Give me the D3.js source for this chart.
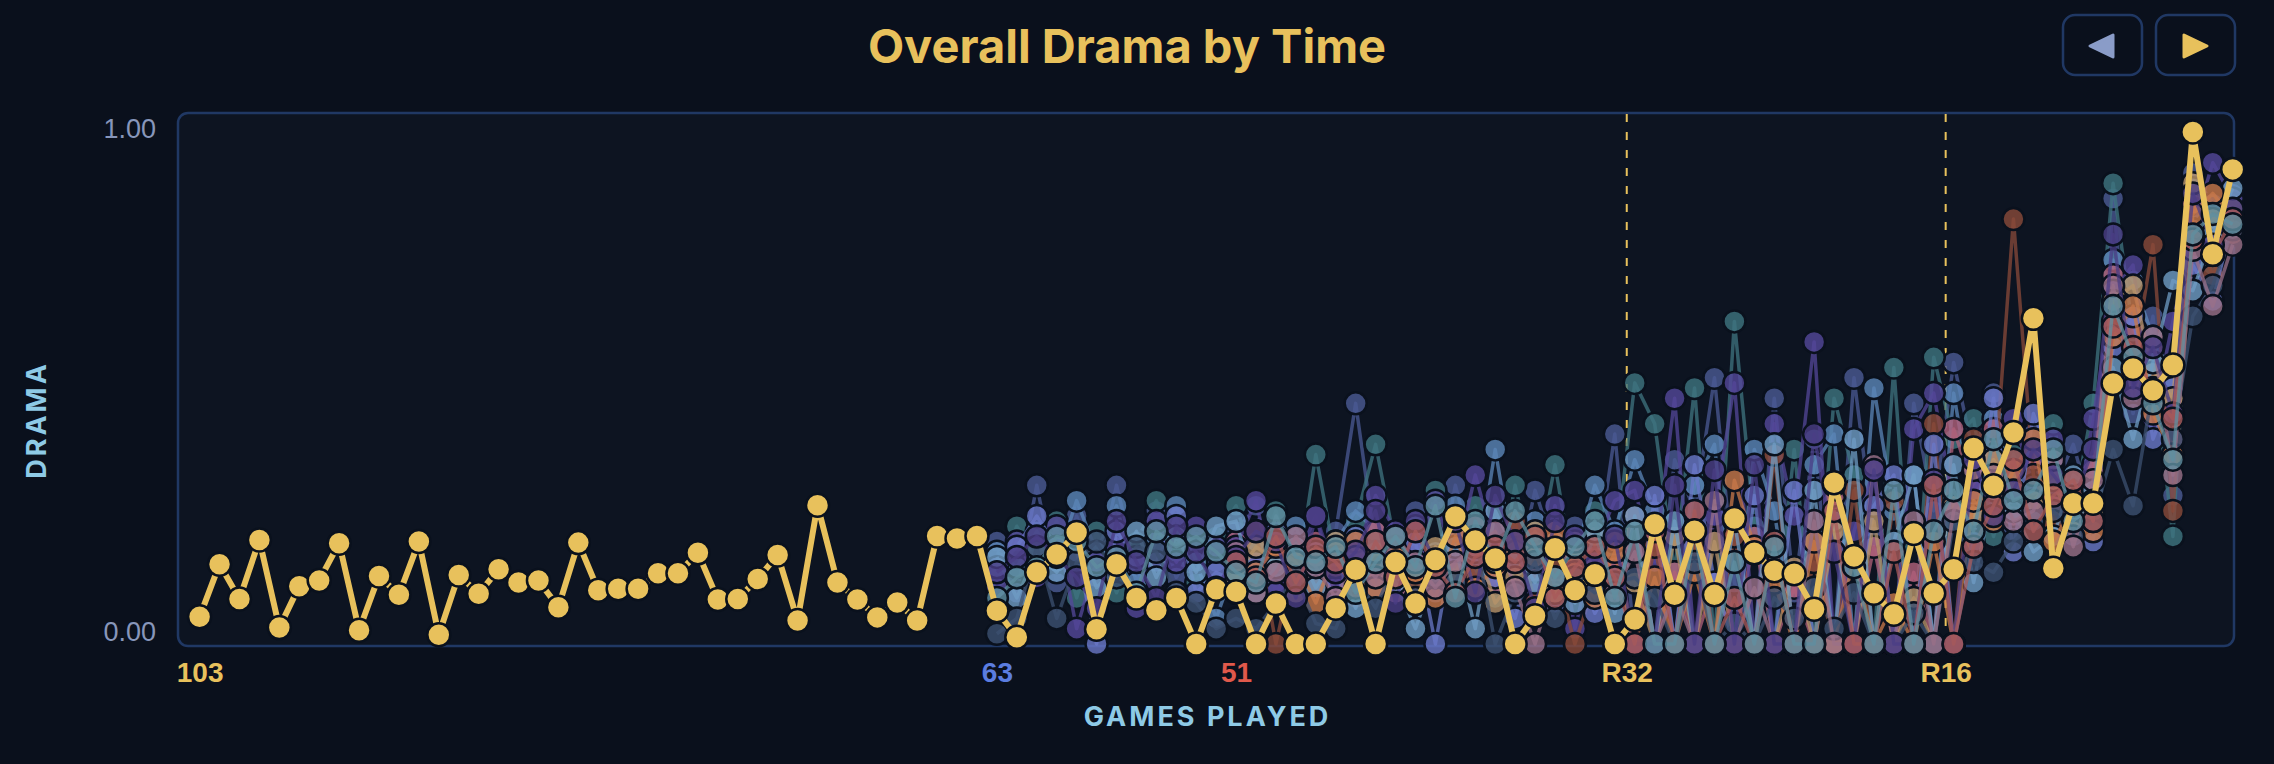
<!DOCTYPE html>
<html>
<head>
<meta charset="UTF-8">
<title>Overall Drama by Time</title>
<style>
    body { margin: 0; background: #0a101c; }
    svg { display: block; font-family: Inter, "Noto Sans", sans-serif; }
    .frame { fill: #0d1421; stroke: #203864; stroke-width: 2.5px; }
    .run-line { fill: none; stroke-width: 3.5px; stroke-opacity: 0.75; stroke-linejoin: round; }
    .run-dot { stroke: #0a111d; stroke-width: 2.5px; fill-opacity: 0.8; }
    .overall-line { fill: none; stroke: #e8c15c; stroke-width: 6px; stroke-linejoin: round; }
    .overall-dot { fill: #e8c15c; stroke: #0a111d; stroke-width: 2.5px; }
    .round-line { stroke: #e8c15c; stroke-width: 2px; stroke-dasharray: 8 10; }
    .y-axis text { fill: #8796ba; font-size: 27px; }
    .x-axis text { font-size: 28px; font-weight: 700; }
    .axis-title { fill: #8ecae6; font-size: 27px; font-weight: 700; letter-spacing: 3px; }
    .title { fill: #e8c15c; font-size: 47px; font-weight: 700; }
    .btn { fill: #0a101c; stroke: #203864; stroke-width: 2.5px; }
</style>
</head>
<body>
<script src="https://d3js.org/d3.v7.min.js"></script>
<script>

// overall drama, one value per game (first game = 103 remaining)
var overall = [0.053,0.156,0.088,0.203,0.032,0.113,0.124,0.197,0.027,0.133,
    0.096,0.200,0.018,0.135,0.098,0.146,0.120,0.124,0.072,0.198,
    0.105,0.108,0.108,0.138,0.138,0.178,0.087,0.088,0.127,0.174,
    0.046,0.271,0.120,0.087,0.052,0.081,0.046,0.211,0.206,0.211,
    0.065,0.013,0.140,0.175,0.218,0.029,0.156,0.090,0.066,0.090,
    0.000,0.107,0.102,0.000,0.079,0.000,0.000,0.070,0.145,0.000,
    0.160,0.079,0.164,0.249,0.202,0.167,0.000,0.055,0.187,0.105,
    0.136,0.000,0.048,0.234,0.096,0.221,0.096,0.245,0.178,0.143,
    0.137,0.068,0.315,0.171,0.099,0.058,0.216,0.099,0.146,0.383,
    0.309,0.413,0.636,0.148,0.275,0.275,0.509,0.538,0.495,0.545,
    1.000,0.761,0.927];

// runs that begin at game index 40 ("63")
var blueStart = 40;
var blue1 = [0.20,0.10,0.31,0.12,0.25,0.13,0.31,0.15,0.26,0.13,0.20,0.16,
    0.22,0.27,0.12,0.20,0.15,0.22,0.47,0.19,0.14,0.26,0.10,0.31,0.16,0.23,0.12,0.30,0.18,0.23,0.14,0.41,
    0.00,0.00,0.36,0.26,0.52,0.12,0.00,0.48,0.10,0.40,0.00,0.52,0.21,0.00,0.47,0.26,0.55,
    0.37,0.49,0.22,0.41,0.30,0.39,0.25,0.87,0.45,0.64,0.29,0.92,0.86,0.88];
var blue2 = [0.13,0.23,0.16,0.24,0.09,0.22,0.10,0.20,0.28,0.18,0.12,0.21,
    0.27,0.15,0.26,0.11,0.37,0.16,0.24,0.39,0.19,0.12,0.30,0.20,0.27,0.09,0.31,0.14,0.35,0.12,0.26,0.17,
    0.51,0.43,0.14,0.50,0.00,0.63,0.23,0.00,0.38,0.00,0.48,0.33,0.00,0.54,0.00,0.56,0.40,
    0.44,0.21,0.37,0.24,0.43,0.26,0.47,0.90,0.61,0.55,0.21,0.85,0.74,0.86];
var blue3 = [0.18,0.15,0.22,0.16,0.28,0.18,0.27,0.12,0.20,0.27,0.16,0.05,
    0.16,0.20,0.18,0.23,0.12,0.20,0.26,0.22,0.10,0.23,0.18,0.27,0.13,0.38,0.15,0.24,0.11,0.17,0.31,0.22,
    0.36,0.26,0.00,0.31,0.39,0.00,0.38,0.26,0.00,0.35,0.41,0.00,0.50,0.26,0.33,0.00,0.49,
    0.26,0.44,0.32,0.36,0.26,0.30,0.35,0.75,0.71,0.60,0.52,0.89,0.80,0.84];
var blue4 = [0.11,0.20,0.13,0.23,0.03,0.16,0.19,0.07,0.24,0.16,0.23,0.19,
    0.19,0.28,0.10,0.16,0.25,0.11,0.17,0.29,0.22,0.18,0.28,0.16,0.33,0.19,0.23,0.10,0.27,0.03,0.19,0.28,
    0.30,0.16,0.48,0.00,0.25,0.51,0.00,0.43,0.25,0.59,0.00,0.22,0.34,0.00,0.42,0.49,0.27,
    0.30,0.37,0.44,0.31,0.40,0.21,0.44,0.69,0.74,0.44,0.63,0.81,0.94,0.87];
var blue5 = [0.15,0.19,0.25,0.19,0.18,0.00,0.22,0.17,0.16,0.25,0.10,0.14,
    0.12,0.16,0.22,0.14,0.18,0.08,0.21,0.11,0.17,0.20,0.00,0.22,0.18,0.13,0.05,0.20,0.08,0.16,0.06,0.13,
    0.00,0.29,0.00,0.35,0.12,0.00,0.29,0.00,0.30,0.00,0.24,0.00,0.27,0.33,0.00,0.39,0.00,
    0.20,0.48,0.18,0.45,0.35,0.26,0.20,0.58,0.64,0.40,0.50,0.74,0.67,0.83];
var blue6 = [0.17,0.09,0.18,0.14,0.21,0.11,0.15,0.22,0.13,0.21,0.14,0.23,
    0.24,0.10,0.15,0.19,0.11,0.17,0.07,0.20,0.12,0.03,0.14,0.19,0.03,0.26,0.18,0.12,0.20,0.08,0.22,0.06,
    0.25,0.00,0.24,0.00,0.00,0.24,0.00,0.39,0.00,0.30,0.00,0.40,0.00,0.20,0.33,0.00,0.35,
    0.12,0.30,0.26,0.18,0.21,0.33,0.30,0.54,0.40,0.55,0.71,0.69,0.80,0.89];
var blue7 = [0.02,0.05,0.19,0.05,0.16,0.20,0.13,0.19,0.18,0.10,0.08,0.03,
    0.05,0.03,0.08,0.13,0.04,0.03,0.13,0.07,0.16,0.09,0.13,0.12,0.21,0.00,0.10,0.16,0.05,0.13,0.10,0.12,
    0.13,0.09,0.00,0.16,0.00,0.04,0.00,0.09,0.05,0.11,0.03,0.10,0.00,0.00,0.06,0.00,0.24,
    0.16,0.14,0.20,0.24,0.26,0.21,0.24,0.38,0.27,0.50,0.40,0.64,0.70,0.81];
var blue8 = [0.14,0.17,0.21,0.17,0.13,0.07,0.24,0.16,0.09,0.23,0.18,0.11,
    0.17,0.22,0.20,0.09,0.25,0.14,0.18,0.26,0.08,0.24,0.16,0.24,0.10,0.29,0.20,0.07,0.24,0.21,0.16,0.21,
    0.00,0.00,0.31,0.00,0.34,0.00,0.35,0.00,0.00,0.41,0.18,0.00,0.34,0.00,0.00,0.32,0.00,
    0.36,0.25,0.30,0.38,0.33,0.28,0.38,0.80,0.50,0.58,0.45,0.88,0.78,0.85];
var blue9 = [0.09,0.13,0.15,0.21,0.20,0.15,0.17,0.10,0.22,0.19,0.21,0.18,
    0.14,0.12,0.25,0.17,0.16,0.19,0.10,0.16,0.21,0.15,0.27,0.09,0.24,0.16,0.26,0.19,0.13,0.19,0.24,0.09,
    0.22,0.00,0.00,0.22,0.00,0.16,0.00,0.19,0.00,0.00,0.31,0.15,0.00,0.30,0.00,0.22,0.30,
    0.22,0.40,0.28,0.30,0.38,0.24,0.28,0.66,0.56,0.47,0.36,0.80,0.84,0.82];

// runs that begin at game index 52 ("51")
var redStart = 52;
var red1 = [0.20,0.16,0.18,0.14,0.20,0.12,0.16,0.22,0.10,0.20,0.13,0.18,0.23,0.12,0.18,0.14,0.19,0.10,0.17,0.15,
    0.25,0.00,0.14,0.00,0.12,0.00,0.21,0.00,0.11,0.00,0.29,0.00,0.19,0.00,0.14,0.00,0.42,
    0.30,0.42,0.25,0.36,0.27,0.25,0.34,0.72,0.62,0.51,0.40,0.86,0.82,0.81];
var red2 = [0.15,0.22,0.00,0.18,0.11,0.15,0.09,0.14,0.19,0.12,0.17,0.23,0.13,0.17,0.24,0.08,0.15,0.00,0.12,0.20,
    0.00,0.19,0.00,0.19,0.00,0.21,0.00,0.37,0.00,0.16,0.00,0.30,0.00,0.28,0.00,0.43,0.00,
    0.40,0.30,0.83,0.33,0.24,0.30,0.29,0.63,0.54,0.78,0.26,0.81,0.72,0.80];
var red3 = [0.13,0.19,0.16,0.10,0.17,0.20,0.12,0.18,0.15,0.08,0.19,0.14,0.20,0.08,0.13,0.22,0.10,0.18,0.21,0.11,
    0.12,0.00,0.21,0.00,0.20,0.00,0.00,0.00,0.15,0.00,0.22,0.00,0.24,0.00,0.09,0.00,0.27,
    0.25,0.36,0.30,0.28,0.32,0.22,0.26,0.67,0.70,0.53,0.48,0.90,0.83,0.85];
var red4 = [0.10,0.14,0.19,0.16,0.08,0.18,0.20,0.11,0.17,0.14,0.09,0.21,0.11,0.15,0.20,0.17,0.22,0.14,0.09,0.18,
    0.00,0.13,0.00,0.14,0.00,0.32,0.19,0.12,0.00,0.20,0.00,0.17,0.00,0.08,0.00,0.20,0.00,
    0.28,0.24,0.34,0.40,0.20,0.27,0.22,0.60,0.66,0.45,0.37,0.84,0.88,0.83];
var red5 = [0.18,0.10,0.14,0.21,0.15,0.09,0.17,0.13,0.21,0.16,0.11,0.16,0.19,0.22,0.11,0.00,0.13,0.20,0.15,0.10,
    0.18,0.00,0.10,0.00,0.28,0.00,0.11,0.00,0.00,0.24,0.00,0.00,0.35,0.00,0.24,0.00,0.26,
    0.34,0.33,0.24,0.26,0.36,0.19,0.32,0.70,0.48,0.60,0.33,0.77,0.66,0.78];
var red6 = [0.16,0.13,0.21,0.12,0.19,0.16,0.11,0.20,0.13,0.22,0.15,0.10,0.17,0.19,0.16,0.21,0.09,0.15,0.19,0.13,
    0.00,0.22,0.00,0.26,0.00,0.09,0.00,0.20,0.00,0.00,0.26,0.00,0.00,0.18,0.00,0.31,0.00,
    0.19,0.27,0.36,0.22,0.29,0.32,0.24,0.62,0.58,0.49,0.44,0.79,0.76,0.83];

// x axis: game index of each label
var tickAt = [0, 40, 52, 71.6, 87.6];
var tickText = ["103", "63", "51", "R32", "R16"];
var roundLines = [71.6, 87.6];
var yTicks = [0, 1];

// colours
var blueColors = ["#4b5a94", "#3f7480", "#5b86b8", "#54479a", "#6a78c8", "#6f9cc4", "#3c5070", "#4a3d85", "#5f8fa0"];
var redColors = ["#b0607a", "#8a4a3a", "#b8946a", "#c8784a", "#9a7088", "#a85a5a"];
var tickColors = { "103": "#e8c15c", "63": "#5b7de0", "51": "#e0594b", "R32": "#e8c15c", "R16": "#e8c15c" };

var W = 2274, H = 764;
var frame = { left: 178, top: 113, right: 2234, bottom: 646 };

var svg = d3.select("body").append("svg")
    .attr("width", W)
    .attr("height", H);

var x = d3.scaleLinear().domain([0, overall.length - 1]).range([199.6, 2232.7]);
var y = d3.scaleLinear().domain([0, 1]).range([644, 132]);

// title
svg.append("text")
    .attr("class", "title")
    .attr("x", 1127).attr("y", 63)
    .attr("text-anchor", "middle")
    .text("Overall Drama by Time");

// prev / next buttons
svg.append("rect").attr("class", "btn")
    .attr("x", 2063).attr("y", 15).attr("width", 79).attr("height", 60).attr("rx", 12);
svg.append("rect").attr("class", "btn")
    .attr("x", 2156).attr("y", 15).attr("width", 79).attr("height", 60).attr("rx", 12);
svg.append("path")
    .attr("d", "M2090,46 L2113,35 L2113,57 Z")
    .attr("fill", "#8a9cc8").attr("stroke", "#8a9cc8")
    .attr("stroke-width", 3).attr("stroke-linejoin", "round");
svg.append("path")
    .attr("d", "M2207,46 L2184,35 L2184,57 Z")
    .attr("fill", "#e8c15c").attr("stroke", "#e8c15c")
    .attr("stroke-width", 3).attr("stroke-linejoin", "round");

// plot frame
svg.append("rect")
    .attr("class", "frame")
    .attr("x", frame.left).attr("y", frame.top)
    .attr("width", frame.right - frame.left)
    .attr("height", frame.bottom - frame.top)
    .attr("rx", 10);

// round markers
svg.selectAll(".round-line")
    .data(roundLines)
    .enter().append("line")
    .attr("class", "round-line")
    .attr("x1", function(d) { return x(d); })
    .attr("x2", function(d) { return x(d); })
    .attr("y1", frame.top + 1)
    .attr("y2", frame.bottom - 1);

// y axis
var yAxis = svg.append("g")
    .attr("class", "y-axis")
    .attr("transform", "translate(" + frame.left + ",0)")
    .call(d3.axisLeft(y).tickValues(yTicks).tickFormat(d3.format(".2f")).tickSize(0).tickPadding(22));
yAxis.select(".domain").remove();
yAxis.selectAll("text")
    .attr("transform", function(d) { return "translate(0," + (d === 0 ? -12 : -3) + ")"; });

// x axis
var xAxis = svg.append("g")
    .attr("class", "x-axis")
    .attr("transform", "translate(0," + frame.bottom + ")")
    .call(d3.axisBottom(x).tickValues(tickAt)
        .tickFormat(function(d, i) { return tickText[i]; })
        .tickSize(0).tickPadding(16));
xAxis.select(".domain").remove();
xAxis.selectAll("text")
    .attr("fill", function(d, i) { return tickColors[tickText[i]]; });

// axis titles
svg.append("text")
    .attr("class", "axis-title")
    .attr("x", (frame.left + frame.right) / 2 + 1.5).attr("y", 726)
    .attr("text-anchor", "middle")
    .text("GAMES PLAYED");

svg.append("text")
    .attr("class", "axis-title")
    .attr("transform", "translate(45.5,420) rotate(-90)")
    .attr("text-anchor", "middle")
    .text("DRAMA");

// build runs, mixing the two groups so neither sits fully on top
var blueRuns = [blue1, blue2, blue3, blue4, blue5, blue6, blue7, blue8, blue9];
var redRuns = [red1, red2, red3, red4, red5, red6];
var drawOrder = ["b0", "b1", "b2", "r0", "b3", "r1", "b4", "r2", "b5", "r3", "b6", "r4", "b7", "r5", "b8"];
var runs = drawOrder.map(function(key) {
    var k = +key.slice(1);
    if (key[0] === "b") return { start: blueStart, values: blueRuns[k], color: blueColors[k] };
    return { start: redStart, values: redRuns[k], color: redColors[k] };
});

function toPoints(start, values) {
    return values.map(function(v, j) { return { i: start + j, v: v }; });
}

var line = d3.line()
    .x(function(d) { return x(d.i); })
    .y(function(d) { return y(d.v); });

var runG = svg.append("g");
runs.forEach(function(r) {
    var pts = toPoints(r.start, r.values);
    var g = runG.append("g");
    g.append("path")
        .attr("class", "run-line")
        .attr("stroke", r.color)
        .attr("d", line(pts));
    g.selectAll("circle")
        .data(pts)
        .enter().append("circle")
        .attr("class", "run-dot")
        .attr("fill", r.color)
        .attr("cx", function(d) { return x(d.i); })
        .attr("cy", function(d) { return y(d.v); })
        .attr("r", 11);
});

// overall series on top
var overallPts = toPoints(0, overall);
svg.append("path")
    .attr("class", "overall-line")
    .attr("d", line(overallPts));

svg.append("g").selectAll("circle")
    .data(overallPts)
    .enter().append("circle")
    .attr("class", "overall-dot")
    .attr("cx", function(d) { return x(d.i); })
    .attr("cy", function(d) { return y(d.v); })
    .attr("r", 11.5);

</script>
</body>
</html>
